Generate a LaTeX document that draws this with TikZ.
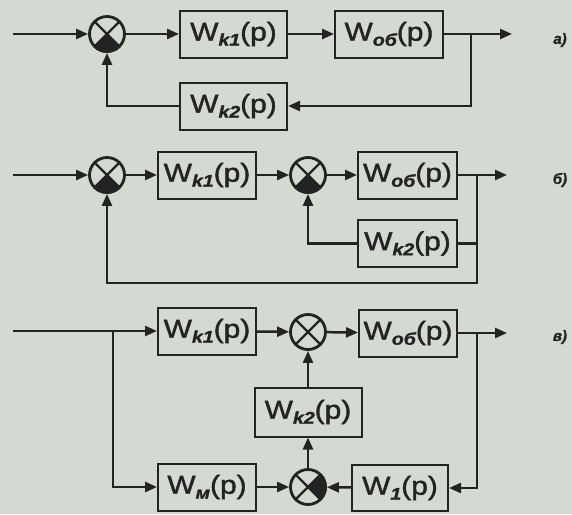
\documentclass[tikz,border=0pt]{standalone}
\usepackage{fontspec}
\setmainfont{Liberation Sans}
\newfontfamily\wfont[FakeStretch=1.15,FakeBold=1.6]{Liberation Sans}
\newfontfamily\labfont[FakeBold=1.2]{Liberation Sans}
\usetikzlibrary{arrows.meta}
\definecolor{bg}{RGB}{212,217,209}
\definecolor{ink}{RGB}{34,36,35}
\newcommand\Wp[1]{W\raisebox{-5pt}{\fontsize{17}{17}\selectfont\bfseries\itshape #1}(p)}
\newcommand\sumX[1]{\draw[ink,line width=2.2pt] (#1.45)--(#1.225) (#1.135)--(#1.-45);}
\newcommand\sumFill[2]{\fill[ink] (#1.center) \foreach \a [evaluate=\a as \b using int(#2+\a)] in {-45,-30,...,45}{ -- (#1.\b)} -- cycle;}
\tikzset{
  blk/.style={draw=ink, line width=2pt, minimum width=107pt, minimum height=47pt, inner sep=0pt, text=ink,
    font=\wfont\fontsize{26}{26}\selectfont},
  sumnode/.style={draw=ink, circle, line width=2.8pt, minimum size=35pt, inner sep=0pt},
  ln/.style={draw=ink, line width=2.5pt},
  arr/.style={ln, -{Triangle[length=12pt,width=10pt]}},
  lab/.style={font=\labfont\fontsize{15}{15}\selectfont\bfseries\itshape, text=ink}
}
\begin{document}
\begin{tikzpicture}[x=1pt,y=-1pt]
\fill[bg] (0,0) rectangle (572,514);
\useasboundingbox (0,0) rectangle (572,514);

% ---------- a) ----------
\coordinate (ina) at (13,34);
\node[sumnode] (sa) at (107,34) {};
\node[blk] (wk1a) at (233.5,34) {\Wp{k1}};
\node[blk, minimum width=108pt] (woba) at (389,34) {\Wp{об}};
\node[blk] (wk2a) at (233.5,106) {\Wp{k2}};
\coordinate (bra) at (471,34);
\coordinate (outa) at (512,34);
\node[lab] (la) at (560,40) {а)};
\sumX{sa}\sumFill{sa}{-90}
\draw[arr] (ina) -- (sa);
\draw[arr] (sa) -- (wk1a);
\draw[arr] (wk1a) -- (woba);
\draw[arr] (woba.east) -- (outa);
\draw[arr] (bra) |- (wk2a.east);
\draw[arr] (wk2a.west) -| (sa.south);

% ---------- b) ----------
\coordinate (inb) at (13,175);
\node[sumnode] (sb1) at (107,175) {};
\node[blk, minimum width=98pt] (wk1b) at (207,175) {\Wp{k1}};
\node[sumnode] (sb2) at (308,175) {};
\node[blk, minimum width=99pt] (wobb) at (407.5,175) {\Wp{об}};
\node[blk, minimum width=99pt] (wk2b) at (407.5,243.5) {\Wp{k2}};
\coordinate (brb) at (477,175);
\coordinate (outb) at (507,175);
\coordinate (botb) at (477,283);
\node[lab] (lb) at (560,180) {б)};
\sumX{sb1}\sumFill{sb1}{-90}
\sumX{sb2}\sumFill{sb2}{-90}
\draw[arr] (inb) -- (sb1);
\draw[arr] (sb1) -- (wk1b);
\draw[arr] (wk1b) -- (sb2);
\draw[arr] (sb2) -- (wobb);
\draw[arr] (wobb.east) -- (outb);
\draw[ln] (wk2b.east) -- (wk2b.east -| brb);
\draw[arr] (brb) -- (botb) -| (sb1.south);
\draw[arr] (wk2b.west) -| (sb2.south);

% ---------- c) ----------
\coordinate (inc) at (13,331);
\coordinate (brc) at (113,331);
\node[blk, minimum width=98pt] (wk1c) at (207,331) {\Wp{k1}};
\node[sumnode] (sc1) at (308,332) {};
\node[blk, minimum width=98pt] (wobc) at (408,333) {\Wp{об}};
\node[blk, minimum height=49pt] (wk2c) at (308,412) {\Wp{k2}};
\node[sumnode] (sc2) at (308,487) {};
\node[blk, minimum width=98pt] (wm) at (207,487) {\Wp{м}};
\node[blk, minimum width=96pt, minimum height=46pt] (w1) at (400,488) {\Wp{1}};
\coordinate (brc2) at (477,333);
\coordinate (outc) at (507,333);
\node[lab] (lc) at (560,337) {в)};
\sumX{sc1}
\sumX{sc2}\sumFill{sc2}{0}
\draw[ln] (inc) -- (brc);
\draw[arr] (brc) -- (wk1c);
\draw[arr] (brc) |- (wm.west);
\draw[arr] (wk1c) -- (sc1);
\draw[arr] (sc1) -- (wobc);
\draw[arr] (wobc.east) -- (outc);
\draw[arr] (brc2) |- (w1.east);
\draw[arr] (w1) -- (sc2);
\draw[arr] (wm) -- (sc2);
\draw[arr] (sc2) -- (wk2c);
\draw[arr] (wk2c) -- (sc1);
\end{tikzpicture}
\end{document}
